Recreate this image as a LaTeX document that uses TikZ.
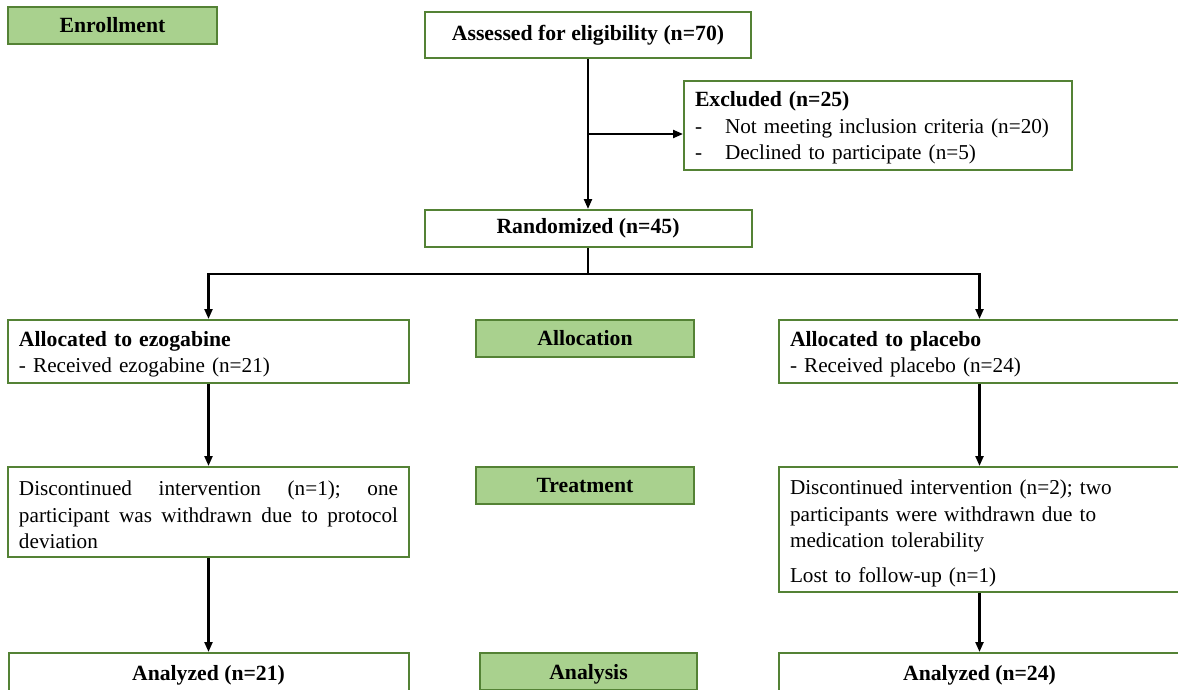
\documentclass[tikz,border=0pt]{standalone}
\usepackage{fontspec}
\setmainfont{Liberation Serif}
\usetikzlibrary{arrows.meta}
\definecolor{boxgreen}{HTML}{548235}
\definecolor{labelgreen}{HTML}{A9D18E}
\newcommand{\bighd}[1]{{\fontsize{21.7}{26.5}\selectfont\textbf{#1}}}
\begin{document}
\begin{tikzpicture}[x=1pt,y=-1pt,
  font=\fontsize{21.2}{26.5}\selectfont,
  box/.style={draw=boxgreen,line width=2pt,fill=white,inner xsep=11pt,inner ysep=0pt,align=left},
  cbox/.style={draw=boxgreen,line width=2pt,fill=white,inner sep=0pt,font=\fontsize{21.7}{26.5}\selectfont\bfseries},
  lbl/.style={draw=boxgreen,line width=2pt,fill=labelgreen,inner sep=0pt,font=\fontsize{21.7}{26.5}\selectfont\bfseries},
  lowtext/.style={text height=18pt,text depth=2.6pt},
  arr/.style={line width=2.2pt,-{Triangle[length=10pt,width=8pt]}},
  ln/.style={line width=2.2pt}]
\useasboundingbox (0,0) rectangle (1178,690);
\clip (0,0) rectangle (1178,690);
% stage labels
\node[lbl,minimum width=209pt,minimum height=37pt] (enroll) at (112.5,25.5) {Enrollment};
\node[lbl,minimum width=218pt,minimum height=37pt] (allocL) at (585,338.5) {Allocation};
\node[lbl,minimum width=218pt,minimum height=37pt] (treatL) at (585,485.5) {Treatment};
\node[lbl,lowtext,minimum width=217pt,minimum height=37pt] (analL) at (588.5,671.5) {Analysis};
% flow boxes
\node[cbox,minimum width=326pt,minimum height=46pt] (assess) at (588,35) {Assessed for eligibility (n=70)};
\node[box,text width=366pt,minimum height=89pt] (excl) at (878,125.5)
  {\rule{0pt}{20pt}\bighd{Excluded (n=25)}\\
   \makebox[30pt][l]{-}Not meeting inclusion criteria (n=20)\\
   \makebox[30pt][l]{-}Declined to participate (n=5)};
\node[cbox,minimum width=327pt,minimum height=37pt] (rand) at (588,228.5) {Randomized (n=45)};
\node[box,text width=379pt,minimum height=63pt] (a1) at (208.5,351.5)
  {\rule{0pt}{21pt}\bighd{Allocated to ezogabine}\\- Received ezogabine (n=21)};
\node[box,text width=379pt,minimum height=63pt] (a2) at (979.5,351.5)
  {\rule{0pt}{21pt}\bighd{Allocated to placebo}\\- Received placebo (n=24)};
\node[box,text width=379pt,minimum height=90pt] (d1) at (208.5,512)
  {\rule{0pt}{21pt}\makebox[379pt]{Discontinued\hfill intervention\hfill (n=1);\hfill one}\\
   \makebox[379pt]{participant\hfill was\hfill withdrawn\hfill due\hfill to\hfill protocol}\\
   deviation};
\node[box,text width=379pt,minimum height=125pt] (d2) at (979.5,529.5)
  {\rule{0pt}{23pt}Discontinued intervention (n=2); two\\
   participants were withdrawn due to\\
   medication tolerability\\[8pt]
   Lost to follow-up (n=1)};
\node[cbox,lowtext,minimum width=400pt,minimum height=39pt] (an1) at (208.5,672.5) {Analyzed (n=21)};
\node[cbox,lowtext,minimum width=401pt,minimum height=39pt] (an2) at (979.5,672.5) {Analyzed (n=24)};
% connectors
\draw[arr] (assess.south) -- (rand.north);
\coordinate (br) at (588,134);
\draw[arr] (br) -- (br -| excl.west);
\coordinate (split) at (588,274);
\draw[ln] (rand.south) -- (split);
\draw[arr] (split) -| (a1.north);
\draw[arr] (split) -| (a2.north);
\draw[arr] (a1.south) -- (d1.north);
\draw[arr] (a2.south) -- (d2.north);
\draw[arr] (d1.south) -- (an1.north);
\draw[arr] (d2.south) -- (an2.north);
\end{tikzpicture}
\end{document}
